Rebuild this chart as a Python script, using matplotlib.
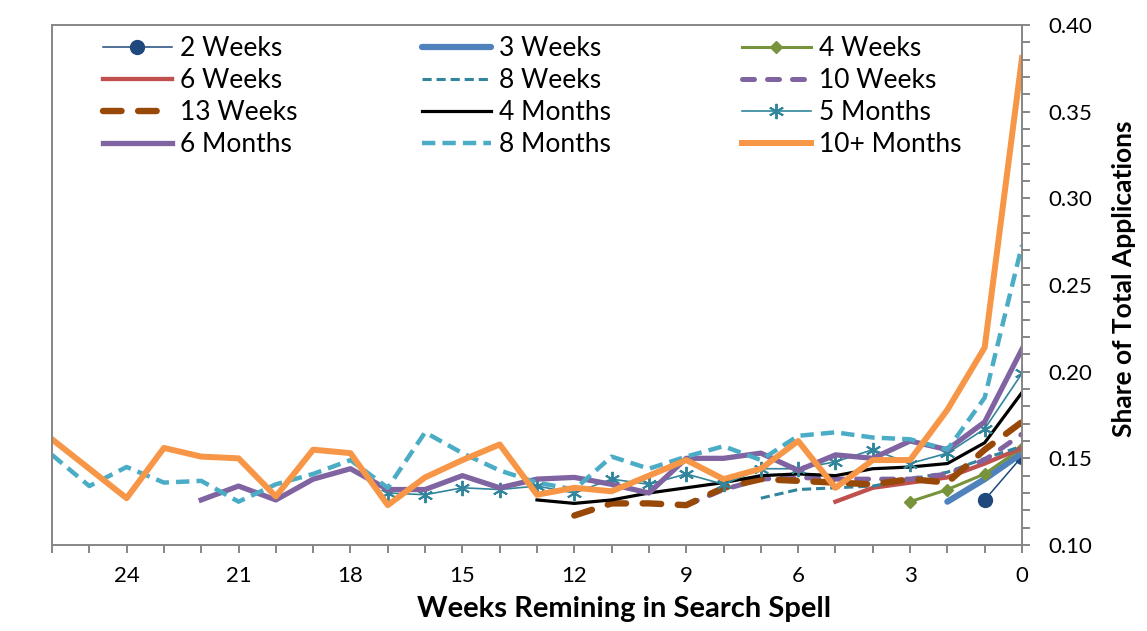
import matplotlib
matplotlib.use("Agg")
import matplotlib.pyplot as plt
from matplotlib.ticker import MultipleLocator, FixedLocator

# ---------------- data ----------------
weeks = list(range(26, -1, -1))          # 26 ... 0 weeks remaining
x_tick_labels = ["24", "21", "18", "15", "12", "9", "6", "3", "0"]

# each series ends at week 0 (values run from its first observed week down to 0)
ten_plus_months = [0.161, 0.144, 0.127, 0.156, 0.151, 0.150, 0.128, 0.155, 0.153,
                   0.123, 0.139, 0.149, 0.158, 0.129, 0.133, 0.131, 0.140, 0.149,
                   0.138, 0.144, 0.160, 0.133, 0.149, 0.149, 0.178, 0.214, 0.381]
eight_months = [0.152, 0.134, 0.145, 0.136, 0.137, 0.125, 0.135, 0.141, 0.149,
                0.133, 0.165, 0.153, 0.143, 0.136, 0.132, 0.151, 0.144, 0.151,
                0.157, 0.149, 0.163, 0.165, 0.162, 0.161, 0.155, 0.185, 0.273]
six_months = [0.126, 0.134, 0.126, 0.138, 0.144, 0.132, 0.132, 0.140, 0.133,
              0.138, 0.139, 0.135, 0.130, 0.150, 0.150, 0.153, 0.143, 0.152,
              0.150, 0.160, 0.155, 0.171, 0.213]
five_months = [0.130, 0.129, 0.133, 0.132, 0.134, 0.130, 0.138, 0.135, 0.141,
               0.135, 0.144, 0.144, 0.148, 0.155, 0.147, 0.153, 0.167, 0.199]
four_months = [0.126, 0.124, 0.126, 0.130, 0.133, 0.136, 0.140, 0.141, 0.140,
               0.144, 0.145, 0.147, 0.159, 0.188]
thirteen_weeks = [0.117, 0.124, 0.124, 0.123, 0.133, 0.138, 0.137, 0.136, 0.135,
                  0.138, 0.136, 0.155, 0.171]
ten_weeks = [0.123, 0.132, 0.138, 0.139, 0.138, 0.138, 0.138, 0.141, 0.149, 0.164]
eight_weeks = [0.127, 0.132, 0.133, 0.134, 0.138, 0.142, 0.150, 0.157]
six_weeks = [0.125, 0.133, 0.136, 0.139, 0.147, 0.156]
four_weeks = [0.125, 0.132, 0.141, 0.156]
three_weeks = [0.125, 0.138, 0.153]
two_weeks = [0.126, 0.151]

series_names = ["2 Weeks", "3 Weeks", "4 Weeks", "6 Weeks", "8 Weeks", "10 Weeks",
                "13 Weeks", "4 Months", "5 Months", "6 Months", "8 Months", "10+ Months"]
series_values = [two_weeks, three_weeks, four_weeks, six_weeks, eight_weeks, ten_weeks,
                 thirteen_weeks, four_months, five_months, six_months, eight_months,
                 ten_plus_months]

# ---------------- styles ----------------
styles = {
    "2 Weeks":    dict(color="#1F497D", lw=1.1, marker="o", ms=10),
    "3 Weeks":    dict(color="#4F81BD", lw=4.5, solid_capstyle="round"),
    "4 Weeks":    dict(color="#77933C", lw=2.2, marker="D", ms=6.5),
    "6 Weeks":    dict(color="#C0504D", lw=3.1),
    "8 Weeks":    dict(color="#31859C", lw=2.2, ls=(0, (3, 1.6))),
    "10 Weeks":   dict(color="#8064A2", lw=3.6, ls=(0, (2.4, 2.6)), dash_capstyle="round"),
    "13 Weeks":   dict(color="#984807", lw=4.6, ls=(0, (2.9, 2.6)), dash_capstyle="round"),
    "4 Months":   dict(color="#000000", lw=2.3),
    "5 Months":   dict(color="#31859C", lw=1.2, marker=(6, 2, 0), ms=11, mew=1.4),
    "6 Months":   dict(color="#8064A2", lw=3.8),
    "8 Months":   dict(color="#4BACC6", lw=3.2, ls=(0, (3, 1.6))),
    "10+ Months": dict(color="#F79646", lw=4.3),
}

plt.rcParams["font.family"] = ["Lato", "DejaVu Sans"]

fig = plt.figure(figsize=(11.47, 6.31), dpi=100)
W, H = 1147, 631
x0, x1, ytop, ybot = 52, 1022, 25, 545
ax = fig.add_axes([x0 / W, 1 - ybot / H, (x1 - x0) / W, (ybot - ytop) / H])

handles = {}
for name, vals in zip(series_names, series_values):
    xs = weeks[len(weeks) - len(vals):]
    st = dict(styles[name])
    (ln,) = ax.plot(xs, vals, label=name, solid_joinstyle="round", **st)
    handles[name] = ln

ax.set_xlim(26, 0)
ax.set_ylim(0.10, 0.40)

axis_gray = "#868686"
ax.yaxis.tick_right()
ax.yaxis.set_label_position("right")
for side in ["left", "top", "bottom", "right"]:
    ax.spines[side].set_color(axis_gray)
    ax.spines[side].set_linewidth(1.4)

ax.xaxis.set_major_locator(FixedLocator([24, 21, 18, 15, 12, 9, 6, 3, 0]))
ax.set_xticklabels(x_tick_labels)
ax.xaxis.set_minor_locator(MultipleLocator(1))
ax.yaxis.set_major_locator(MultipleLocator(0.05))
ax.yaxis.set_minor_locator(MultipleLocator(0.01))
ax.yaxis.set_major_formatter(matplotlib.ticker.FormatStrFormatter("%.2f"))

ax.tick_params(axis="both", which="both", direction="out", length=6, width=1.4,
               color=axis_gray, labelsize=16)
ax.tick_params(axis="x", which="major", pad=9)
ax.tick_params(axis="y", which="major", pad=13)

ax.set_xlabel("Weeks Remining in Search Spell", fontsize=21, fontweight="bold")
ax.xaxis.set_label_coords((624 - x0) / (x1 - x0), -(609 - ybot) / (ybot - ytop), transform=ax.transAxes)
ax.xaxis.label.set_va("center")
ax.set_ylabel("Share of Total Applications", fontsize=19, fontweight="bold", rotation=90)
ax.yaxis.set_label_coords((1124 - x0) / (x1 - x0), (ybot - 279) / (ybot - ytop), transform=ax.transAxes)
ax.yaxis.label.set_va("center")

columns = [["2 Weeks", "6 Weeks", "13 Weeks", "6 Months"],
           ["3 Weeks", "8 Weeks", "4 Months", "8 Months"],
           ["4 Weeks", "10 Weeks", "5 Months", "10+ Months"]]
col_x = [103, 422, 742]
legs = []
for cx, col in zip(col_x, columns):
    leg = fig.legend([handles[n] for n in col], col, loc="upper left",
                     bbox_to_anchor=(cx / W, 1 - 36 / H), bbox_transform=fig.transFigure,
                     frameon=False, fontsize=19, handlelength=2.6, handletextpad=0.3,
                     labelspacing=0.27, borderpad=0, borderaxespad=0, numpoints=1)
    legs.append(leg)

fig.savefig("out.png", dpi=100)
